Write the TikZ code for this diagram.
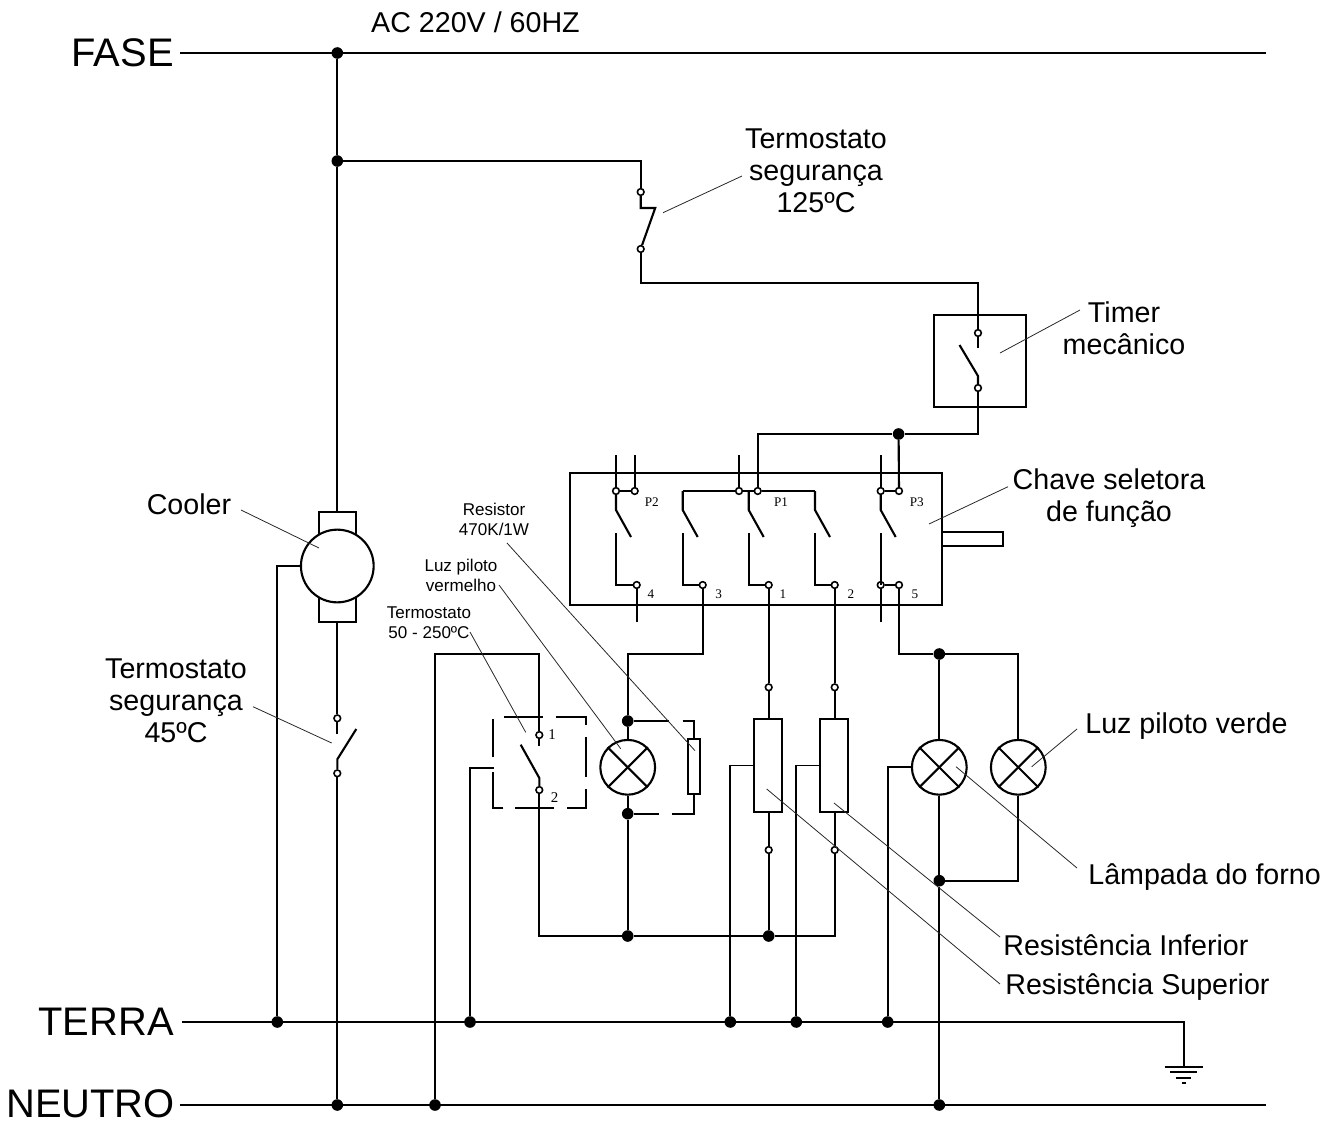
\documentclass[tikz,border=0pt]{standalone}
\usepackage{fontspec}
\setmainfont{Liberation Sans}
\newfontfamily\numfont{Liberation Serif}
\def\px{0.5669pt}
\tikzset{
	wire/.style={line width=1.2pt},
	thinwire/.style={line width=0.95pt},
	leader/.style={line width=0.45pt, black!85},
	dot/.style={circle, fill=black, inner sep=0pt, minimum size=6.6pt},
	terminal/.style={circle, draw, fill=white, line width=0.9pt, inner sep=0pt, minimum size=3.8pt},
	lamp/.style={circle, draw, line width=1.2pt, fill=white, inner sep=0pt, minimum size=55*\px},
	resbox/.style={rectangle, draw, line width=1.2pt, fill=white, inner sep=0pt, minimum width=28*\px, minimum height=93*\px},
	bigtext/.style={font=\fontsize{22.7}{26}\selectfont, inner sep=0pt},
	labeltext/.style={font=\fontsize{16.3}{18.2}\selectfont, inner sep=0pt, align=center},
	smalltext/.style={font=\fontsize{9.7}{11.3}\selectfont, inner sep=0pt, align=center},
	pintext/.style={font=\numfont\fontsize{7.5}{8}\selectfont, inner sep=0pt}
}
\begin{document}
\begin{tikzpicture}[x=0.02cm, y=-0.02cm]
	\useasboundingbox (0,0) rectangle (1338,1122);

	% Junctions
	\foreach \n/\x/\y in {fase/337.3/53, split/337.3/161, neutA/337.3/1105, neutB/435/1105, neutC/939.3/1105,
		terA/277.3/1022, terB/470/1022, terC/730.3/1022, terD/796.3/1022, terE/887.7/1022,
		selIn/898.6/434, ledA/627.7/721, ledB/627.7/813.7, retA/627.7/936, retB/768.7/936,
		ovenA/939.3/654, ovenB/939.3/880.7}
	\node[dot] (\n) at (\x,\y) {};

	% Terminals
	\foreach \n/\x/\y in {safeA/640.7/192, safeB/640.7/249, timerA/978/333, timerB/978/388,
		ptwoA/616/491, ptwoB/634.7/491, poneA/739/491, poneB/757.7/491, pthreeA/880.7/491, pthreeB/899/491,
		cfour/636.7/585, cthree/702.7/585, cone/768.7/585, ctwo/834.7/585, cfiveA/880.7/585, cfiveB/899/585,
		supA/768.7/687.3, infA/834.7/687.3, supB/768.7/850, infB/834.7/850,
		thermA/539.3/735, thermB/539.3/790, coolA/337.3/718.3, coolB/337.3/773.3}
	\node[terminal] (\n) at (\x,\y) {};

	% Free ends
	\foreach \n/\x/\y in {faseL/180/53, faseR/1266/53, terL/182/1022, terR/1184/1022, neutL/180/1105, neutR/1266/1105,
		gndTop/1184/1066.7, gndA/1164.7/1066.7, gndB/1202.7/1066.7, gndC/1170/1072, gndD/1197/1072,
		gndE/1176/1077.7, gndF/1191/1077.7, gndG/1182/1083, gndH/1186/1083,
		stubA/616/455, stubB/634.7/455, stubC/739/455, stubD/880.7/455,
		stubE/636.7/622, stubF/880.7/622, stubG/978/348, stubH/337.3/734, stubI/539.3/746,
		busL/682.7/491, busR/815/491, busM/748.7/491, armBase/640.7/208}
	\coordinate (\n) at (\x,\y);

	% Supply lines
	\draw[wire] (faseL) -- (faseR);
	\draw[wire] (neutL) -- (neutR);
	\draw[wire] (terL) -- (terR) -- (gndTop);
	\draw[wire] (gndA) -- (gndB) (gndC) -- (gndD) (gndE) -- (gndF) (gndG) -- (gndH);

	% Cooler
	\node[rectangle, draw, wire, inner sep=0pt, minimum width=36.7*\px, minimum height=110*\px] (brush) at (337.3,567) {};
	\node[circle, draw, wire, fill=white, inner sep=0pt, minimum size=73*\px] (cooler) at (337.3,566) {};
	\draw[wire] (fase) -- (split) -- (brush);
	\draw[wire] (brush) -- (coolA) -- (stubH);
	\draw[wire] (coolB) -- (neutA);
	\draw[wire] (coolB) -- (337.3,759.3) -- (356.3,729);
	\draw[wire] (cooler) -- (terA |- cooler) -- (terA);

	% Safety thermostat and timer
	\draw[wire] (split) -| (safeA);
	\draw[wire] (safeA) -- (armBase) -- ++(14.5,0) -- (safeB);
	\draw[wire] (safeB) |- (640.7,282.7) -| (timerA);
	\node[rectangle, draw, wire, inner sep=0pt, minimum width=92*\px, minimum height=92*\px] (timer) at (980,361) {};
	\draw[wire] (timerA) -- (stubG);
	\draw[wire] (timerA |- timer.north) -- (timerA);
	\draw[wire] (959.5,345) -- (978,376) -- (timerB);
	\draw[wire] (timerB) |- (selIn);
	\draw[wire] (selIn) -- (pthreeB);
	\draw[wire] (selIn) -| (poneB);

	% Selector switch
	\node[rectangle, draw, wire, inner sep=0pt, minimum width=374*\px, minimum height=132*\px] (selector) at (756,539) {};
	\draw[wire] (943,532) -- (1002.7,532) -- (1002.7,546) -- (943,546);
	\draw[wire] (ptwoA) -- (stubA);
	\draw[wire] (ptwoB) -- (stubB);
	\draw[wire] (ptwoA) -- (ptwoB);
	\draw[wire] (poneA) -- (stubC);
	\draw[wire] (poneA) -- (poneB);
	\draw[wire] (pthreeA) -- (stubD);
	\draw[wire] (pthreeA) -- (pthreeB);
	\draw[wire] (busL) -- (poneA);
	\draw[wire] (poneB) -- (busR);
	\foreach \x/\top in {616/ptwoA, 682.7/busL, 748.7/busM, 815/busR, 880.7/pthreeA}
	\draw[wire] (\top) -- (\x,510) -- ++(15,27);
	\foreach \x/\bot in {616/cfour, 682.7/cthree, 748.7/cone, 815/ctwo, 880.7/cfiveA}
	\draw[wire] (\x,533) |- (\bot);
	\draw[wire] (cfour) -- (stubE);
	\draw[wire] (cfiveA) -- (stubF);
	\draw[wire] (cfiveA) -- (cfiveB);

	% Resistors
	\node[resbox] (resSup) at (768.3,765.5) {};
	\node[resbox] (resInf) at (834.3,765.5) {};
	\draw[wire] (cone) -- (supA) -- (resSup.north -| supA);
	\draw[wire] (ctwo) -- (infA) -- (resInf.north -| infA);
	\draw[wire] (resSup.south -| supB) -- (supB) -- (retB);
	\draw[wire] (resInf.south -| infB) -- (infB);
	\draw[wire] (infB) |- (retB);
	\draw[thinwire] (terC) |- (resSup.west);
	\draw[thinwire] (terD) |- (resInf.west);

	% Pilot lamp and its resistor
	\node[lamp] (lampRed) at (627.7,767.3) {};
	\node[rectangle, draw, thinwire, fill=white, inner sep=0pt, minimum width=11.4*\px, minimum height=55*\px] (resLed) at (694,766.5) {};
	\draw[wire] (cthree) |- (627.7,654) -- (ledA);
	\draw[wire] (ledA) -- (lampRed);
	\draw[wire] (lampRed) -- (ledB) -- (retA);
	\draw[wire] (retA) -- (retB);
	\draw[thinwire] (ledA) -- (669,721) (682.7,721) -| (resLed);
	\draw[thinwire] (ledB) -- (659,813.7) (671.7,813.7) -| (resLed);

	% Oven thermostat
	\draw[wire] (neutB) |- (539.3,654) -- (thermA) -- (stubI);
	\draw[wire] (520.7,744.7) -- (539.3,778) -- (thermB);
	\draw[wire] (thermB) |- (retA);
	\draw[thinwire] (terB) |- (494,767.7);
	\draw[thinwire] (504,716.7) -- (543,716.7) (555.7,716.7) -- (586,716.7) -- (586,725) (586,737.3) -- (586,776.7)
		(586,789.3) -- (586,808.3) -- (566.7,808.3) (554,808.3) -- (515,808.3) (503.3,808.3) -- (493.3,808.3) -- (493.3,771.7)
		(493.3,757.3) -- (493.3,719);

	% Oven lamps
	\node[lamp] (lampOven) at (939.3,767.3) {};
	\node[lamp] (lampGreen) at (1018.3,767.3) {};
	\draw[wire] (cfiveB) |- (ovenA);
	\draw[wire] (ovenA) -- (lampOven);
	\draw[wire] (ovenA) -| (lampGreen);
	\draw[wire] (lampOven) -- (ovenB) -- (neutC);
	\draw[wire] (lampGreen) |- (ovenB);
	\draw[thinwire] (lampOven) -| (terE);
	\foreach \n in {lampRed, lampOven, lampGreen}{
		\draw[wire] (\n.45) -- (\n.225);
		\draw[wire] (\n.135) -- (\n.315);
	}

	% Labels
	\node[bigtext, anchor=east] (faseText) at (174,53) {FASE};
	\node[bigtext, anchor=east] (terText) at (174,1022) {TERRA};
	\node[bigtext, anchor=east] (neutText) at (175,1104) {NEUTRO};
	\node[labeltext] (acText) at (475.5,22) {AC 220V / 60HZ};
	\node[labeltext] (safeText) at (816,170.5) {Termostato\\segurança\\125ºC};
	\node[labeltext] (timerText) at (1124,328.5) {Timer\\mecânico};
	\node[labeltext] (selectorText) at (1109,498.5) {Chave seletora\\de função};
	\node[labeltext] (coolerText) at (189,504) {Cooler};
	\node[labeltext] (coolSafeText) at (176,700.5) {Termostato\\segurança\\45ºC};
	\node[labeltext, anchor=west] (greenText) at (1085,726) {Luz piloto verde};
	\node[labeltext, anchor=west] (ovenText) at (1088,877.5) {Lâmpada do forno};
	\node[labeltext, anchor=west] (infText) at (1003,945.5) {Resistência Inferior};
	\node[labeltext, anchor=west] (supText) at (1005,987) {Resistência Superior};
	\node[smalltext] (resText) at (494,519) {Resistor\\470K/1W};
	\node[smalltext] (redText) at (461,575) {Luz piloto\\vermelho};
	\node[smalltext] (thermText) at (429,623) {Termostato\\50 - 250ºC};

	% Pin labels
	\foreach \n/\t/\x/\y in {pinA/P2/651.7/501.7, pinB/P1/781/501.7, pinC/P3/916.7/501.7, pinD/4/651/594, pinE/3/718.7/594,
		pinF/1/783/594, pinG/2/851/594, pinH/5/915/594}
	\node[pintext] (\n) at (\x,\y) {\t};
	\node[font=\numfont\fontsize{8.5}{9}\selectfont, inner sep=0pt] (pinI) at (552,735) {1};
	\node[font=\numfont\fontsize{8.5}{9}\selectfont, inner sep=0pt] (pinJ) at (554.7,798) {2};

	% Leader lines
	\foreach \a/\b/\c/\d in {241/510/319/548, 253/706.7/331.7/743, 742/176/663/212.7, 1080/310/1000/353,
		1008/486.7/929/524, 1077/729/1031.7/766.7, 1077/868/956/766.7, 1000/937/834/803, 1000/984/766.7/789,
		507/543/695/750.7, 499/585/620.7/748.7, 470/632/525.7/732.3}
	\draw[leader] (\a,\b) -- (\c,\d);
\end{tikzpicture}
\end{document}
